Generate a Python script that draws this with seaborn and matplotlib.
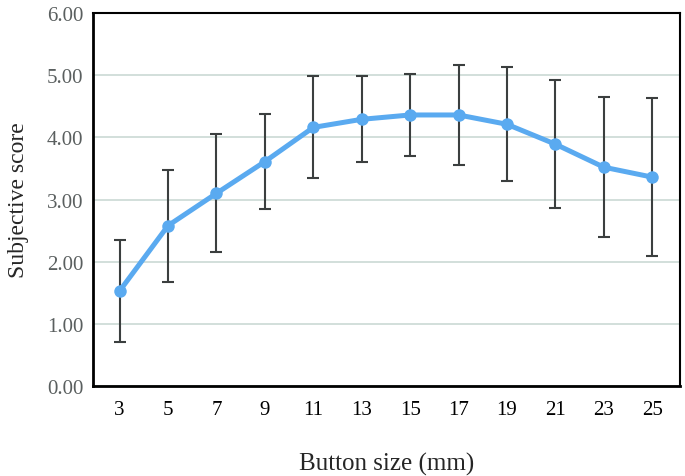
import numpy as np
import pandas as pd
import seaborn as sns
import matplotlib.pyplot as plt

sizes = [3, 5, 7, 9, 11, 13, 15, 17, 19, 21, 23, 25]
scores = [1.53, 2.58, 3.10, 3.61, 4.16, 4.29, 4.36, 4.36, 4.21, 3.89, 3.52, 3.36]
sds = [0.82, 0.90, 0.95, 0.77, 0.82, 0.69, 0.66, 0.80, 0.92, 1.03, 1.13, 1.27]

df = pd.DataFrame({'size': sizes, 'score': scores, 'sd': sds})

sns.set_style('white')
plt.rcParams['font.family'] = ['Liberation Serif', 'DejaVu Serif']

fig = plt.figure(figsize=(6.85, 4.77), dpi=100)
ax = fig.add_axes([0.1358, 0.1887, 0.857, 0.7819])

ax.errorbar(df['size'], df['score'], yerr=df['sd'], fmt='none',
            ecolor='#3b3f3f', elinewidth=1.5, capsize=4, capthick=1.5, zorder=2)
sns.lineplot(data=df, x='size', y='score', ax=ax, color='#5aaaf0',
             linewidth=3.6, marker='o', markersize=9, markeredgewidth=0, zorder=3)

ax.set_ylim(0, 6)
ax.set_xlim(1.9, 26.15)
ax.set_xticks(sizes)
ax.set_xticklabels([str(s) for s in sizes])
ax.set_yticks(np.arange(0, 7, 1))
ax.set_yticklabels([f'{v:.2f}' for v in np.arange(0, 7, 1)])
ax.grid(axis='y', color='#cfdcd8', linewidth=1.3, zorder=0)
ax.set_axisbelow(True)

for side, lw in [('left', 2), ('bottom', 2), ('top', 1.5), ('right', 1.5)]:
    ax.spines[side].set_color('black')
    ax.spines[side].set_linewidth(lw)

ax.tick_params(axis='y', labelsize=15, labelcolor='#5a5f5f', length=0, pad=7)
ax.tick_params(axis='x', labelsize=15, labelcolor='black', length=0, pad=10)

ax.set_xlabel('Button size (mm)', fontsize=18, labelpad=24)
ax.set_ylabel('Subjective score', fontsize=17, labelpad=13)

fig.savefig('out.png', dpi=100)
